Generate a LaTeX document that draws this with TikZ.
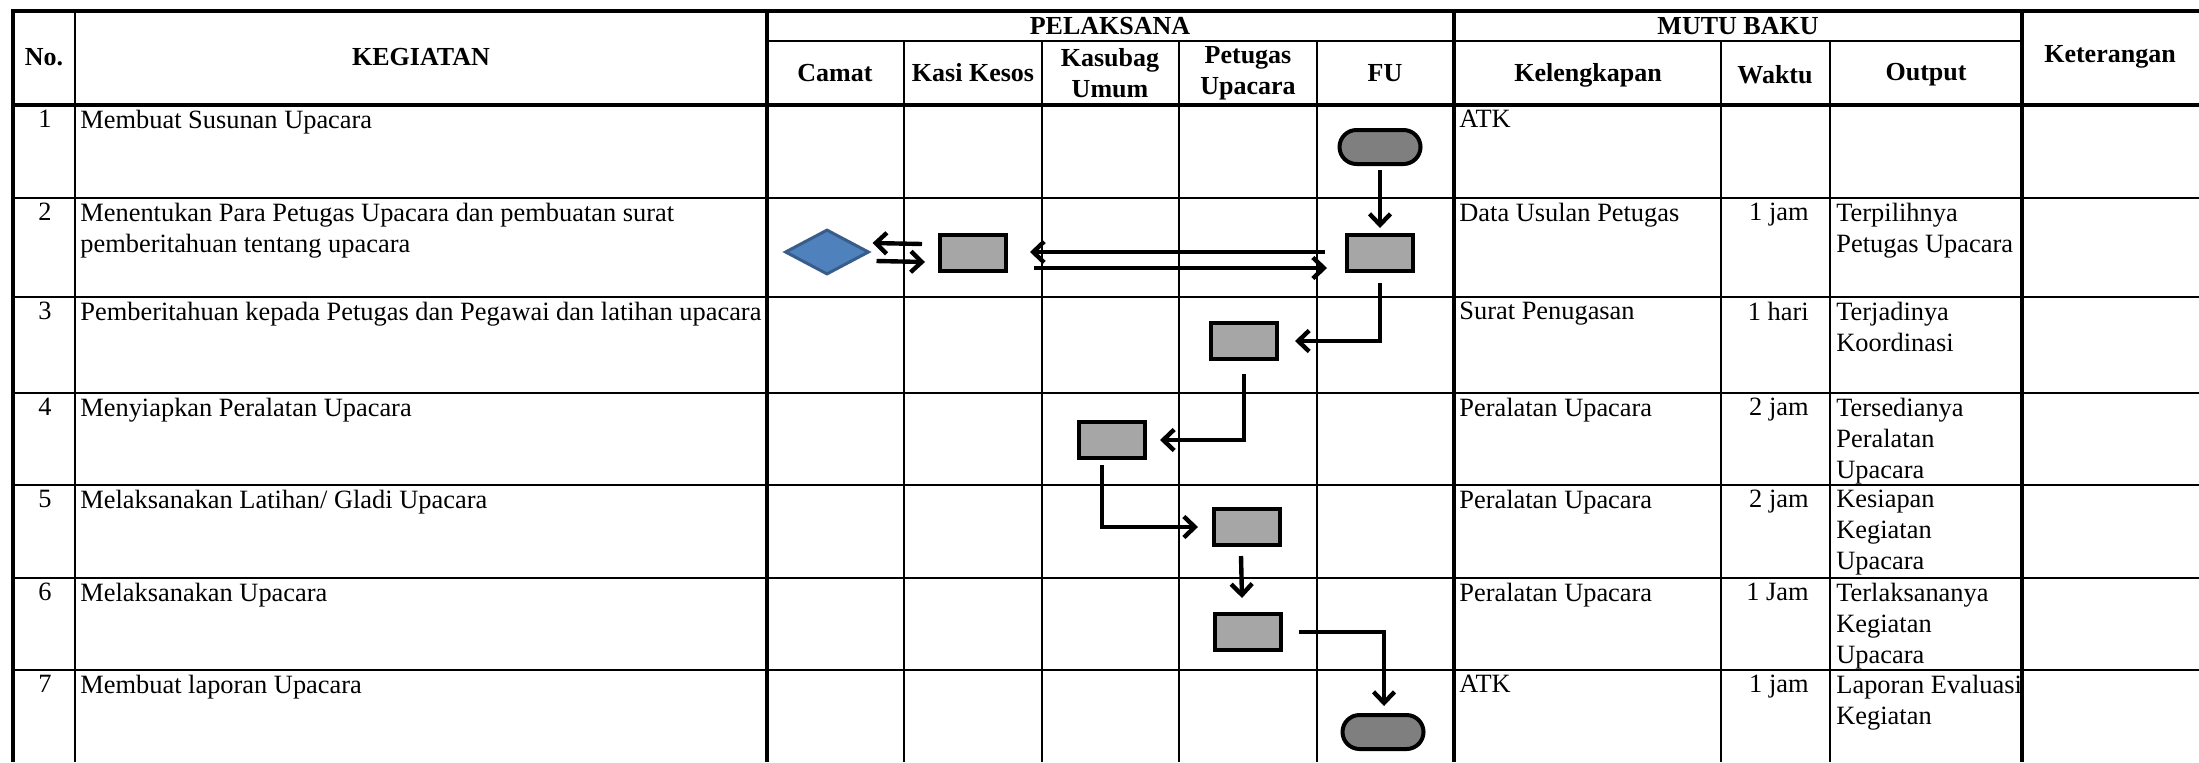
\documentclass[tikz,border=0pt]{standalone}
\usepackage{fontspec}
\setmainfont{Liberation Serif}
\usetikzlibrary{arrows.meta,shapes.geometric}

\definecolor{boxgray}{HTML}{A6A6A6}
\definecolor{termgray}{HTML}{7F7F7F}
\definecolor{decblue}{HTML}{4F81BD}
\definecolor{decline}{HTML}{385D8A}

\tikzset{
  grid/.style={line width=1pt},
  frame/.style={line width=2.2pt},
  cell/.style={anchor=north west, inner sep=0pt, align=left, font=\fontsize{13.2}{15.5}\selectfont},
  waktu/.style={anchor=north east, inner sep=0pt, font=\fontsize{13.2}{15.5}\selectfont},
  head/.style={inner sep=0pt, align=center, font=\fontsize{13}{15.5}\selectfont\bfseries},
  procbox/.style={draw, line width=2pt, fill=boxgray, minimum width=33pt, minimum height=18pt, inner sep=0pt},
  terminal/.style={draw, line width=2pt, fill=termgray, rounded corners=8.5pt, minimum width=40.5pt, minimum height=17pt, inner sep=0pt},
  decision/.style={diamond, draw=decline, line width=1.5pt, fill=decblue, minimum width=42pt, minimum height=22.5pt, inner sep=0pt},
  flow/.style={line width=2.2pt, -{Straight Barb[length=5.5pt,width=10.5pt]}}
}

\begin{document}
\begin{tikzpicture}[x=0.5pt, y=-0.5pt]
\useasboundingbox (0,0) rectangle (2199,762);

\draw [grid] (75,11) -- (75,762);
\foreach \x in {904,1042,1179,1317,1721,1830}
  \draw [grid] (\x,41) -- (\x,762);
\draw [grid] (767,41) -- (2022,41);
\foreach \y in {198,297,393,485,578,670}
  \draw [grid] (13,\y) -- (2199,\y);
\draw [frame] (13,762) -- (13,11) -- (2199,11);
\draw [frame] (13,105) -- (2199,105);
\foreach \x in {767,1454,2022}
  \draw [frame] (\x,11) -- (\x,762);

\node (hno) [head] at (44,57) {No.};
\node (hkeg) [head] at (421,57) {KEGIATAN};
\node (hpel) [head] at (1110,26) {PELAKSANA};
\node (hmutu) [head] at (1738,26) {MUTU BAKU};
\node (hcamat) [head] at (835,73) {Camat};
\node (hkasi) [head] at (973,73) {Kasi Kesos};
\node (hkasubag) [head] at (1110,73) {Kasubag\\Umum};
\node (hpetugas) [head] at (1248,73) {Petugas\\Upacara};
\node (hfu) [head] at (1385,73) {FU};
\node (hkel) [head] at (1588,75) {Kelengkapan};
\node (hwaktu) [head] at (1775,75) {Waktu};
\node (hout) [head] at (1926,75) {Output};
\node (hket) [head] at (2110,57) {Keterangan};

\node (no1) [cell] at (38,110) {1};
\node (no2) [cell] at (38,203) {2};
\node (no3) [cell] at (38,302) {3};
\node (no4) [cell] at (38,398) {4};
\node (no5) [cell] at (38,490) {5};
\node (no6) [cell] at (38,583) {6};
\node (no7) [cell] at (38,675) {7};

\node (keg1) [cell] at (80,110) {Membuat Susunan Upacara};
\node (keg2) [cell] at (80,203) {Menentukan Para Petugas Upacara dan pembuatan surat\\pemberitahuan tentang upacara};
\node (keg3) [cell] at (80,302) {Pemberitahuan kepada Petugas dan Pegawai dan latihan upacara};
\node (keg4) [cell] at (80,398) {Menyiapkan Peralatan Upacara};
\node (keg5) [cell] at (80,490) {Melaksanakan Latihan/ Gladi Upacara};
\node (keg6) [cell] at (80,583) {Melaksanakan Upacara};
\node (keg7) [cell] at (80,675) {Membuat laporan Upacara};

\node (kel1) [cell] at (1459,110) {ATK};
\node (kel2) [cell] at (1459,203) {Data Usulan Petugas};
\node (kel3) [cell] at (1459,302) {Surat Penugasan};
\node (kel4) [cell] at (1459,398) {Peralatan Upacara};
\node (kel5) [cell] at (1459,490) {Peralatan Upacara};
\node (kel6) [cell] at (1459,583) {Peralatan Upacara};
\node (kel7) [cell] at (1459,675) {ATK};

\node (wak2) [waktu] at (1809,203) {1 jam};
\node (wak3) [waktu] at (1809,302) {1 hari};
\node (wak4) [waktu] at (1809,398) {2 jam};
\node (wak5) [waktu] at (1809,490) {2 jam};
\node (wak6) [waktu] at (1809,583) {1 Jam};
\node (wak7) [waktu] at (1809,675) {1 jam};

\node (out2) [cell] at (1836,203) {Terpilihnya\\Petugas Upacara};
\node (out3) [cell] at (1836,302) {Terjadinya\\Koordinasi};
\node (out4) [cell] at (1836,398) {Tersedianya\\Peralatan\\Upacara};
\node (out5) [cell] at (1836,490) {Kesiapan\\Kegiatan\\Upacara};
\node (out6) [cell] at (1836,583) {Terlaksananya\\Kegiatan\\Upacara};
\node (out7) [cell] at (1836,675) {Laporan Evaluasi\\Kegiatan};

\node (start) [terminal] at (1380,147) {};
\node (fu2) [procbox] at (1380,253) {};
\node (kasi2) [procbox] at (973,253) {};
\node (camat2) [decision] at (827,252) {};
\node (petugas3) [procbox] at (1244,341) {};
\node (kasubag4) [procbox] at (1112,440) {};
\node (petugas5) [procbox] at (1247,527) {};
\node (petugas6) [procbox] at (1248,632) {};
\node (finish) [terminal] at (1383,732) {};

\draw [flow] ([yshift=-2pt]start.south) -- ([yshift=2.5pt]fu2.north);
\draw [flow] ([shift={(-20,-1)}]fu2.west) -- ([shift={(22,-1)}]kasi2.east);
\draw [flow] ([shift={(26,15)}]kasi2.east) -- ([shift={(-18,15)}]fu2.west);
\draw [flow] ([shift={(-16,-9)}]kasi2.west) -- ([shift={(2,-9)}]camat2.east);
\draw [flow] ([shift={(6,9)}]camat2.east) -- ([shift={(-13,9)}]kasi2.west);
\draw [flow] ([yshift=-5pt]fu2.south) |- ([xshift=8pt]petugas3.east);
\draw [flow] ([yshift=-6.5pt]petugas3.south) |- ([xshift=6.5pt]kasubag4.east);
\draw [flow] ([shift={(-10,5)}]kasubag4.south) |- ([xshift=-7pt]petugas5.west);
\draw [flow] ([shift={(-6,9)}]petugas5.south) -- ([shift={(-6,-14)}]petugas6.north);
\draw [flow] ([xshift=8pt]petugas6.east) -| ([shift={(1,-7)}]finish.north);
\end{tikzpicture}
\end{document}
